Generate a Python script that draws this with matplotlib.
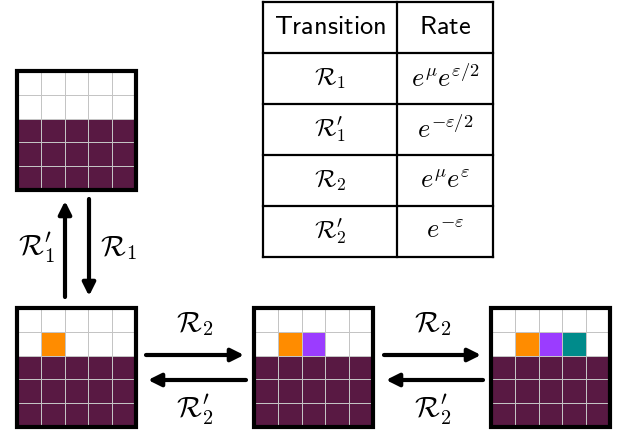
import numpy as np
import matplotlib
matplotlib.use("Agg")
import matplotlib.pyplot as plt
from matplotlib.colors import ListedColormap
from matplotlib.patches import Rectangle

plt.rcParams['mathtext.fontset'] = 'cm'

# --- data ---
# cell states: 0 empty, 1 bulk, 2/3/4 adsorbed species
grid_top = [[0, 0, 0, 0, 0],
            [0, 0, 0, 0, 0],
            [1, 1, 1, 1, 1],
            [1, 1, 1, 1, 1],
            [1, 1, 1, 1, 1]]
grid_one = [[0, 0, 0, 0, 0],
            [0, 2, 0, 0, 0],
            [1, 1, 1, 1, 1],
            [1, 1, 1, 1, 1],
            [1, 1, 1, 1, 1]]
grid_two = [[0, 0, 0, 0, 0],
            [0, 2, 3, 0, 0],
            [1, 1, 1, 1, 1],
            [1, 1, 1, 1, 1],
            [1, 1, 1, 1, 1]]
grid_three = [[0, 0, 0, 0, 0],
              [0, 2, 3, 4, 0],
              [1, 1, 1, 1, 1],
              [1, 1, 1, 1, 1],
              [1, 1, 1, 1, 1]]
cell_colors = ['#ffffff', '#591943', '#ff8c00', '#9b3cff', '#008b8b']

table_head = [r'$\mathsf{Transition}$', r'$\mathsf{Rate}$']
transitions = [r'$\mathcal{R}_1$', r"$\mathcal{R}_1'$", r'$\mathcal{R}_2$', r"$\mathcal{R}_2'$"]
rates = [r'$e^{\mu}e^{\varepsilon/2}$', r'$e^{-\varepsilon/2}$',
         r'$e^{\mu}e^{\varepsilon}$', r'$e^{-\varepsilon}$']

# --- figure in pixel coords ---
fig = plt.figure(figsize=(6.33, 4.34), dpi=100)
ax = fig.add_axes([0, 0, 1, 1])
ax.set_xlim(0, 633)
ax.set_ylim(434, 0)
ax.axis('off')

cmap = ListedColormap(cell_colors)


def draw_grid(grid, x0, y0, size=119):
    g = np.array(grid)
    n = g.shape[0]
    xs = np.linspace(x0, x0 + size, n + 1)
    ys = np.linspace(y0, y0 + size, n + 1)
    ax.pcolormesh(xs, ys, g, cmap=cmap, vmin=-0.5, vmax=4.5,
                  edgecolors='#c4c4c4', linewidth=0.7)
    ax.add_patch(Rectangle((x0, y0), size, size, fill=False,
                           edgecolor='black', linewidth=3, zorder=5))


draw_grid(grid_top, 17, 71)
draw_grid(grid_one, 17, 308)
draw_grid(grid_two, 254, 308)
draw_grid(grid_three, 491, 308)


def arrow(x1, y1, x2, y2):
    ax.annotate('', xy=(x2, y2), xytext=(x1, y1),
                arrowprops=dict(arrowstyle='-|>', color='black', lw=3,
                                mutation_scale=19, shrinkA=0, shrinkB=0))


lab = dict(fontsize=21, ha='center', va='center')

# vertical pair
arrow(65, 297, 65, 201)
arrow(89, 199, 89, 296)
ax.text(36, 248, transitions[1], **lab)
ax.text(118, 248, transitions[0], **lab)

# horizontal pairs
for xa, xb in [(146, 244), (384, 481)]:
    arrow(xa, 355, xb, 355)
    arrow(xb + 2, 380, xa + 2, 380)
    mid = (xa + xb) / 2
    ax.text(mid, 324, transitions[2], **lab)
    ax.text(mid, 410, transitions[3], **lab)

# --- table ---
tx0, tx1, tmid = 263, 493, 397
rows_y = [2, 53, 104, 155, 206, 257]
for y in rows_y:
    ax.plot([tx0, tx1], [y, y], color='black', lw=1.6)
for x in [tx0, tmid, tx1]:
    ax.plot([x, x], [rows_y[0], rows_y[-1]], color='black', lw=1.6)

cx1 = (tx0 + tmid) / 2
cx2 = (tmid + tx1) / 2
ax.text(cx1, (rows_y[0] + rows_y[1]) / 2, table_head[0], fontsize=19,
        ha='center', va='center')
ax.text(cx2, (rows_y[0] + rows_y[1]) / 2, table_head[1], fontsize=19,
        ha='center', va='center')
for i in range(4):
    yc = (rows_y[i + 1] + rows_y[i + 2]) / 2
    ax.text(cx1, yc, transitions[i], fontsize=18, ha='center', va='center')
    ax.text(cx2, yc, rates[i], fontsize=19, ha='center', va='center')

fig.savefig('out.png', dpi=100)
